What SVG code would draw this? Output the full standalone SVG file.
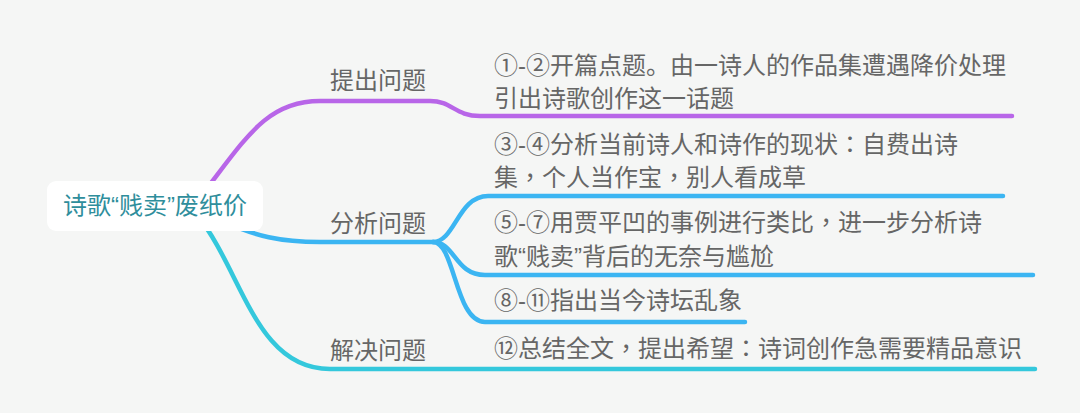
<svg xmlns="http://www.w3.org/2000/svg" width="1080" height="413" viewBox="0 0 1080 413">
<style>
.bg{fill:#f5f6f5}
.ln{fill:none;stroke-width:4.5;stroke-linecap:round;stroke-linejoin:round}
.p{stroke:#b866e8}
.b{stroke:#3bb5f2}
.c{stroke:#34c8dc}
text{font-family:"Liberation Sans","Noto Sans CJK SC",sans-serif}
.t{font-size:24px;fill:#666666}
.root{font-size:24px;fill:#2f8e9c}
.pu{font-family:"Noto Sans CJK TC",sans-serif}
</style>
<rect class="bg" x="0" y="0" width="1080" height="413"/>
<g id="connectors">
<path class="ln p" d="M198 200 C245 140 265 101 320 101 L430 101 C452 101 455 116 480 116 L1012 116"/>
<path class="ln b" d="M225 222 C255 236 280 242 320 242 L433 242"/>
<path class="ln b" d="M433 242 C455 242 458 196 488 196 L1003 196"/>
<path class="ln b" d="M433 242 C455 242 455 275 485 275 L1033 275"/>
<path class="ln b" d="M433 242 C455 242 455 322 485 322 L745 322"/>
<path class="ln c" d="M197 215 C242 270 255 369 330 369 L1035 369"/>
</g>
<g id="root">
<rect x="47" y="181" width="216" height="50" rx="9" fill="#ffffff"/>
<text class="root" x="155" y="214" text-anchor="middle">诗歌“贱卖”废纸价</text>
</g>
<g id="topic1"><text class="t" x="330" y="89">提出问题</text></g>
<g id="topic2"><text class="t" x="330" y="232">分析问题</text></g>
<g id="topic3"><text class="t" x="330" y="359">解决问题</text></g>
<g id="detail1"><text class="t" x="494" y="74">①-②开篇点题。由一诗人的作品集遭遇降价处理</text><text class="t" x="494" y="107">引出诗歌创作这一话题</text></g>
<g id="detail2"><text class="t" x="494" y="153">③-④分析当前诗人和诗作的现状<tspan class="pu">：</tspan>自费出诗</text><text class="t" x="494" y="186">集<tspan class="pu">，</tspan>个人当作宝<tspan class="pu">，</tspan>别人看成草</text></g>
<g id="detail3"><text class="t" x="494" y="231">⑤-⑦用贾平凹的事例进行类比<tspan class="pu">，</tspan>进一步分析诗</text><text class="t" x="494" y="265">歌“贱卖”背后的无奈与尴尬</text></g>
<g id="detail4"><text class="t" x="494" y="309">⑧-⑪指出当今诗坛乱象</text></g>
<g id="detail5"><text class="t" x="494" y="357">⑫总结全文<tspan class="pu">，</tspan>提出希望<tspan class="pu">：</tspan>诗词创作急需要精品意识</text></g>
</svg>
